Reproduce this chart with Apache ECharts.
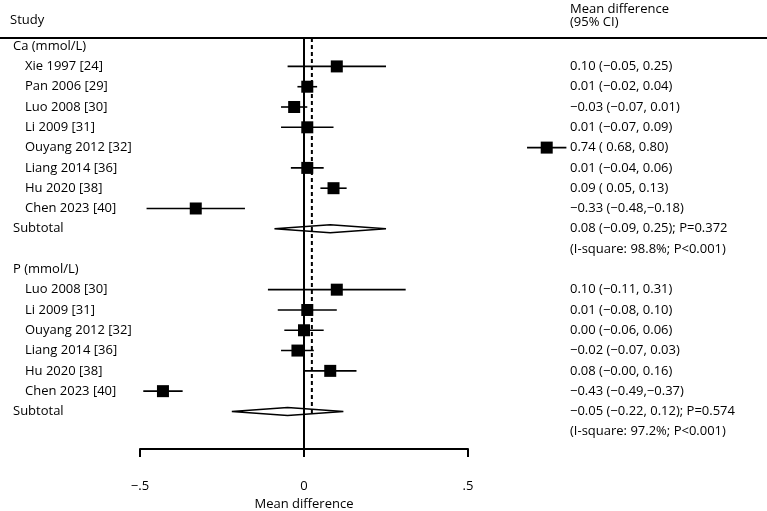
<!DOCTYPE html>
<html>
<head>
<meta charset="utf-8">
<script src="https://cdn.jsdelivr.net/npm/echarts@6/dist/echarts.min.js"></script>
<style>
  html, body { margin: 0; padding: 0; background: #fff; }
  #chart { width: 767px; height: 511px; }
</style>
</head>
<body>
<div id="chart"></div>
<script>
// Ca (mmol/L)
const caStudies = ['Xie 1997 [24]', 'Pan 2006 [29]', 'Luo 2008 [30]', 'Li 2009 [31]',
  'Ouyang 2012 [32]', 'Liang 2014 [36]', 'Hu 2020 [38]', 'Chen 2023 [40]'];
const caMd = [0.10, 0.01, -0.03, 0.01, 0.74, 0.01, 0.09, -0.33];
const caLo = [-0.05, -0.02, -0.07, -0.07, 0.68, -0.04, 0.05, -0.48];
const caHi = [0.25, 0.04, 0.01, 0.09, 0.80, 0.06, 0.13, -0.18];
const caSubtotal = [0.08, -0.09, 0.25];
const caPValue = 0.372;
const caISquare = 98.8;

// P (mmol/L)
const pStudies = ['Luo 2008 [30]', 'Li 2009 [31]', 'Ouyang 2012 [32]', 'Liang 2014 [36]',
  'Hu 2020 [38]', 'Chen 2023 [40]'];
const pMd = [0.10, 0.01, 0.00, -0.02, 0.08, -0.43];
const pLo = [-0.11, -0.08, -0.06, -0.07, -0.00, -0.49];
const pHi = [0.31, 0.10, 0.06, 0.03, 0.16, -0.37];
const pSubtotal = [-0.05, -0.22, 0.12];
const pPValue = 0.574;
const pISquare = 97.2;

const overallMd = 0.024;
const xTicks = [-0.5, 0, 0.5];
const xTickLabels = ['\u2212.5', '0', '.5'];

const FONT = '"Open Sans", sans-serif';

function fmt(v) {
  const neg = v < 0 || Object.is(v, -0);
  return (neg ? '\u2212' : '') + Math.abs(v).toFixed(2);
}
function pad(v) {
  const s = fmt(v);
  return s.charAt(0) === '\u2212' ? s : ' ' + s;
}
function ciText(md, lo, hi) {
  return fmt(md) + ' (' + pad(lo) + ',' + pad(hi) + ')';
}

const groups = [
  { title: 'Ca (mmol/L)', studies: caStudies, md: caMd, lo: caLo, hi: caHi,
    sub: caSubtotal, p: caPValue, i2: caISquare },
  { title: 'P (mmol/L)', studies: pStudies, md: pMd, lo: pLo, hi: pHi,
    sub: pSubtotal, p: pPValue, i2: pISquare }
];

const studyRows = [];    // [row, md, lo, hi]
const subtotalRows = []; // [row, md, lo, hi]
const textRows = [];     // [row, left, indent, right]
let row = 0;
groups.forEach(g => {
  textRows.push([row, g.title, 0, '']);
  row++;
  g.studies.forEach((name, i) => {
    studyRows.push([row, g.md[i], g.lo[i], g.hi[i]]);
    textRows.push([row, name, 1, ciText(g.md[i], g.lo[i], g.hi[i])]);
    row++;
  });
  subtotalRows.push([row, g.sub[0], g.sub[1], g.sub[2]]);
  textRows.push([row, 'Subtotal', 0, ciText(g.sub[0], g.sub[1], g.sub[2]) + '; P=' + g.p.toFixed(3)]);
  row++;
  textRows.push([row, '', 0, '(I-square: ' + g.i2.toFixed(1) + '%; P<0.001)']);
  row++;
});
const lastSubtotalRow = subtotalRows[subtotalRows.length - 1][0];

const chart = echarts.init(document.getElementById('chart'));

const option = {
  animation: false,
  backgroundColor: '#fff',
  grid: { left: 140, right: 299, top: 38, bottom: 62, containLabel: false, outerBoundsMode: 'none' },
  xAxis: {
    type: 'value',
    position: 'bottom',
    min: -0.5,
    max: 0.5,
    interval: 0.5,
    axisLine: { show: true, onZero: false, lineStyle: { color: '#000', width: 2 } },
    axisTick: { show: true, length: 8, lineStyle: { color: '#000', width: 2 } },
    axisLabel: {
      margin: 31,
      color: '#000',
      fontSize: 13,
      fontFamily: FONT,
      formatter: v => xTickLabels[xTicks.findIndex(t => Math.abs(t - v) < 1e-9)]
    },
    splitLine: { show: false },
    name: 'Mean difference',
    nameLocation: 'middle',
    nameGap: 47,
    nameTextStyle: { color: '#000', fontSize: 13, fontFamily: FONT }
  },
  yAxis: { type: 'value', min: -0.4, max: 19.85, inverse: true, show: false },
  graphic: [
    { type: 'line', shape: { x1: 0, y1: 38, x2: 767, y2: 38 }, style: { stroke: '#000', lineWidth: 2 } },
    { type: 'text', left: 10, top: 14, style: { text: 'Study', fill: '#000', font: '13px ' + FONT } },
    { type: 'text', left: 570, top: 3, style: { text: 'Mean difference\n(95% CI)', fill: '#000', font: '13px ' + FONT, lineHeight: 13 } }
  ],
  series: [
    {
      type: 'custom',
      name: 'diamonds',
      data: subtotalRows,
      clip: false,
      z: 2,
      renderItem: (params, api) => {
        const c = api.coord([api.value(1), api.value(0)]);
        const l = api.coord([api.value(2), api.value(0)]);
        const r = api.coord([api.value(3), api.value(0)]);
        return {
          type: 'polygon',
          shape: { points: [[l[0], c[1]], [c[0], c[1] - 4], [r[0], c[1]], [c[0], c[1] + 4]] },
          style: { fill: '#fff', stroke: '#000', lineWidth: 1.6 }
        };
      }
    },
    {
      type: 'custom',
      name: 'reference',
      data: [[0, -0.4, 19.85, 0], [overallMd, -0.4, lastSubtotalRow + 0.1, 1]],
      clip: false,
      z: 3,
      renderItem: (params, api) => {
        const a = api.coord([api.value(0), api.value(1)]);
        const b = api.coord([api.value(0), api.value(2)]);
        const dashed = api.value(3) === 1;
        return {
          type: 'line',
          shape: { x1: a[0], y1: a[1], x2: b[0], y2: b[1] },
          style: { stroke: '#000', lineWidth: 2, lineDash: dashed ? [4, 3] : null }
        };
      }
    },
    {
      type: 'custom',
      name: 'studies',
      data: studyRows,
      clip: false,
      z: 4,
      renderItem: (params, api) => {
        const c = api.coord([api.value(1), api.value(0)]);
        const l = api.coord([api.value(2), api.value(0)]);
        const r = api.coord([api.value(3), api.value(0)]);
        const s = 12;
        return {
          type: 'group',
          children: [
            { type: 'line', shape: { x1: l[0], y1: c[1], x2: r[0], y2: c[1] }, style: { stroke: '#000', lineWidth: 1.6 } },
            { type: 'rect', shape: { x: c[0] - s / 2, y: c[1] - s / 2, width: s, height: s }, style: { fill: '#000' } }
          ]
        };
      }
    },
    {
      type: 'custom',
      name: 'labels',
      data: textRows,
      clip: false,
      z: 5,
      renderItem: (params, api) => {
        const y = api.coord([0, api.value(0)])[1];
        const d = textRows[params.dataIndex];
        return {
          type: 'group',
          children: [
            { type: 'text', x: d[2] ? 25 : 13, y: y, style: { text: d[1], fill: '#000', font: '13px ' + FONT, verticalAlign: 'middle' } },
            { type: 'text', x: 570, y: y, style: { text: d[3], fill: '#000', font: '13px ' + FONT, verticalAlign: 'middle' } }
          ]
        };
      }
    }
  ]
};

chart.setOption(option);
</script>
</body>
</html>
